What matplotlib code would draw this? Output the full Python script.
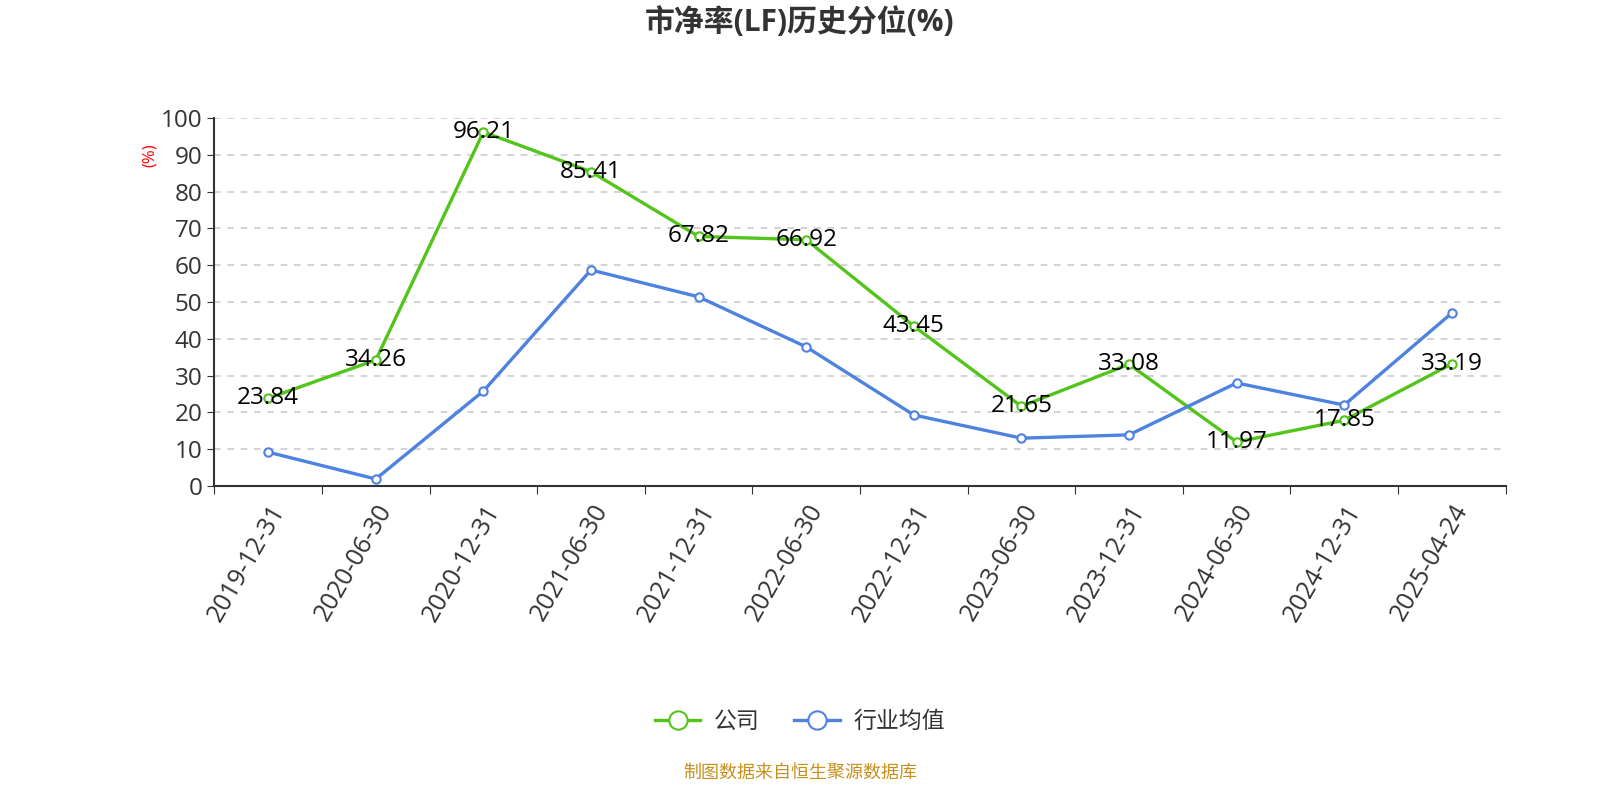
import matplotlib.pyplot as plt
import numpy as np

plt.rcParams['font.family'] = ['Open Sans', 'Noto Sans CJK SC', 'DejaVu Sans']

dates = ['2019-12-31', '2020-06-30', '2020-12-31', '2021-06-30', '2021-12-31', '2022-06-30',
         '2022-12-31', '2023-06-30', '2023-12-31', '2024-06-30', '2024-12-31', '2025-04-24']
company = [23.84, 34.26, 96.21, 85.41, 67.82, 66.92, 43.45, 21.65, 33.08, 11.97, 17.85, 33.19]
industry = [9.2, 1.9, 25.8, 58.7, 51.4, 37.8, 19.3, 13.0, 13.9, 28.0, 22.0, 47.0]
yticks = [0, 10, 20, 30, 40, 50, 60, 70, 80, 90, 100]

green = '#52c41a'
blue = '#4e82e0'

fig = plt.figure(figsize=(16, 8), dpi=100)
ax = fig.add_axes([0.134, 0.3925, 0.807, 0.46])

x = np.arange(len(dates))
ax.plot(x, company, color=green, lw=2.4, marker='o', ms=6, mfc='white', mec=green, mew=1.5,
        label='公司', zorder=3)
ax.plot(x, industry, color=blue, lw=2.4, marker='o', ms=6, mfc='white', mec=blue, mew=1.5,
        label='行业均值', zorder=3)

for xi, v in zip(x, company):
    ax.text(xi, v, f'{v:.2f}', ha='center', va='center', fontsize=17.5, color='black', zorder=4)

ax.set_xlim(-0.5, len(dates) - 0.5)
ax.set_ylim(0, 100)
ax.set_yticks(yticks)
ax.tick_params(axis='y', labelsize=17.5, labelcolor='#333333', length=5, color='#333333')
ax.yaxis.grid(True, linestyle=(0, (4, 4)), color='#cccccc', lw=1.2)
ax.set_axisbelow(True)

# category ticks at boundaries, labels at centres
ax.set_xticks(np.arange(-0.5, len(dates), 1.0))
ax.set_xticklabels([])
ax.set_xticks(x, minor=True)
ax.set_xticklabels(dates, minor=True, rotation=60, ha='right', rotation_mode='anchor',
                   fontsize=18, color='#333333')
ax.tick_params(axis='x', which='major', length=6, color='#333333')
ax.tick_params(axis='x', which='minor', length=0, pad=10)

for s in ['top', 'right']:
    ax.spines[s].set_visible(False)
for s in ['left', 'bottom']:
    ax.spines[s].set_color('#333333')
    ax.spines[s].set_linewidth(1.5)

ax.text(-0.05, 0.9, '(%)', transform=ax.transAxes, rotation=90, color='red',
        fontsize=12, ha='center', va='center')

fig.text(0.5, 0.972, '市净率(LF)历史分位(%)', ha='center', va='center', fontsize=21.5,
         fontweight='bold', color='#333333')

fig.legend(loc='center', bbox_to_anchor=(0.5, 0.098), ncol=2, frameon=False, fontsize=16.5,
           handlelength=2.0, columnspacing=1.5, handletextpad=0.6, markerscale=2.2,
           labelcolor='#333333')

fig.text(0.5, 0.034, '制图数据来自恒生聚源数据库', ha='center', va='center', fontsize=13,
         color='#c8901e')

fig.savefig('out.png', dpi=100)
